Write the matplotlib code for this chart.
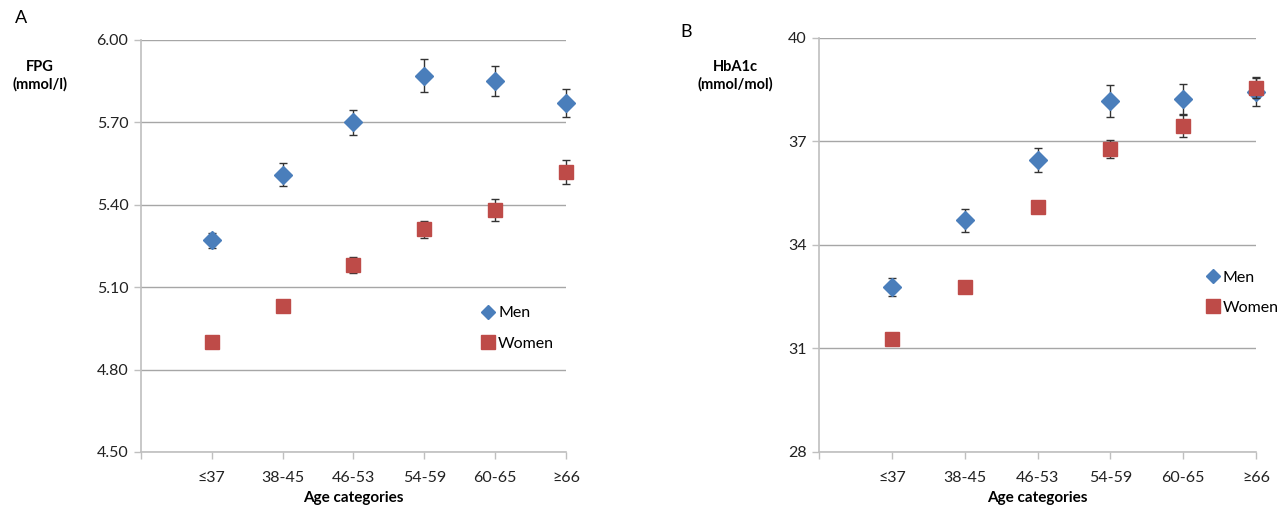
import matplotlib
matplotlib.use('Agg')
import matplotlib.pyplot as plt
from matplotlib.lines import Line2D
import numpy as np

plt.rcParams['font.family'] = ['Lato', 'DejaVu Sans']

age_groups = ['≤37', '38-45', '46-53', '54-59', '60-65', '≥66']

# panel A: fasting plasma glucose (mmol/l)
fpg_men = [5.27, 5.51, 5.70, 5.87, 5.85, 5.77]
fpg_men_err = [0.028, 0.041, 0.046, 0.060, 0.056, 0.052]
fpg_women = [4.90, 5.03, 5.18, 5.31, 5.38, 5.52]
fpg_women_err = [0.008, 0.015, 0.028, 0.032, 0.040, 0.043]

# panel B: HbA1c (mmol/mol)
hba1c_men = [32.79, 34.71, 36.46, 38.17, 38.23, 38.44]
hba1c_men_err = [0.26, 0.34, 0.36, 0.45, 0.43, 0.40]
hba1c_women = [31.28, 32.77, 35.10, 36.78, 37.45, 38.56]
hba1c_women_err = [0.05, 0.15, 0.15, 0.27, 0.31, 0.30]

fpg_ticks = [4.50, 4.80, 5.10, 5.40, 5.70, 6.00]
hba1c_ticks = [28, 31, 34, 37, 40]

MEN_COLOR = '#4a7ebb'
WOMEN_COLOR = '#be4b48'
GRID_COLOR = '#a6a6a6'


def draw_panel(ax, men, men_err, women, women_err, yticks, fmt, legend_pos):
    x = np.arange(1, len(age_groups) + 1)
    for vals, errs, mk, col, ms, z in [(men, men_err, 'D', MEN_COLOR, 9.5, 3),
                                       (women, women_err, 's', WOMEN_COLOR, 10, 4)]:
        cont = ax.errorbar(x, vals, yerr=errs, fmt=mk, color=col, ms=ms,
                           ecolor='#333333', elinewidth=1, capsize=3,
                           capthick=1, zorder=z)
        for art in cont.get_children():
            art.set_clip_on(False)

    ax.set_xlim(0, len(age_groups))
    ax.set_ylim(yticks[0], yticks[-1])
    ax.set_yticks(yticks)
    ax.set_yticklabels([fmt.format(t) for t in yticks])
    ax.set_xticks(np.arange(0, len(age_groups) + 1))
    ax.set_xticklabels([''] + age_groups)
    ax.yaxis.grid(True, color=GRID_COLOR, lw=1)
    ax.set_axisbelow(True)

    for side in ['top', 'right']:
        ax.spines[side].set_visible(False)
    for side in ['left', 'bottom']:
        ax.spines[side].set_color('#bfbfbf')
        ax.spines[side].set_linewidth(1.2)
    ax.tick_params(axis='x', colors='#bfbfbf', labelcolor='#222222',
                   length=5, width=1, labelsize=11.5, pad=9)
    ax.tick_params(axis='y', colors='#bfbfbf', labelcolor='#222222',
                   length=5, width=1, labelsize=11.5, pad=4)

    ax.set_xlabel('Age categories', fontsize=11, fontweight='bold', labelpad=4)

    handles = [Line2D([], [], ls='none', marker='D', color=MEN_COLOR, ms=7),
               Line2D([], [], ls='none', marker='s', color=WOMEN_COLOR, ms=10)]
    ax.legend(handles, ['Men', 'Women'], loc='center left',
              bbox_to_anchor=legend_pos, frameon=False, fontsize=11.5,
              handletextpad=0.1, handlelength=1.0, labelspacing=1.0)


fig = plt.figure(figsize=(12.79, 5.05), dpi=100)
ax_a = fig.add_axes([0.1102, 0.105, 0.3323, 0.816])
ax_b = fig.add_axes([0.6404, 0.105, 0.3417, 0.820])

draw_panel(ax_a, fpg_men, fpg_men_err, fpg_women, fpg_women_err,
           fpg_ticks, '{:.2f}', (0.765, 0.30))
draw_panel(ax_b, hba1c_men, hba1c_men_err, hba1c_women, hba1c_women_err,
           hba1c_ticks, '{:d}', (0.85, 0.385))

fig.text(0.012, 0.965, 'A', fontsize=13, va='center', ha='left')
fig.text(0.532, 0.937, 'B', fontsize=13, va='center', ha='left')
fig.text(0.031, 0.85, 'FPG\n(mmol/l)', fontsize=10.5, fontweight='bold',
         ha='center', va='center', linespacing=1.2)
fig.text(0.575, 0.85, 'HbA1c\n(mmol/mol)', fontsize=10.5, fontweight='bold',
         ha='center', va='center', linespacing=1.2)

fig.savefig('out.png', dpi=100)
